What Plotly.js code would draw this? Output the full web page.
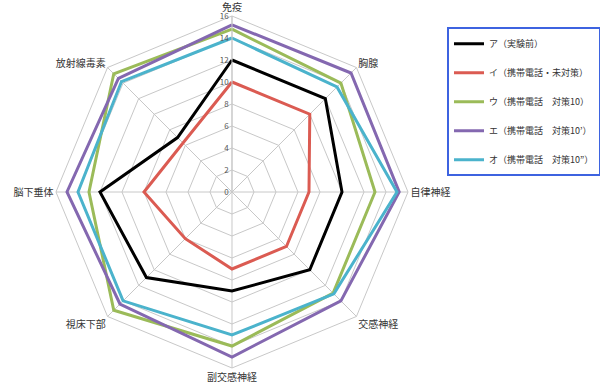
<!DOCTYPE html>
<html>
<head>
<meta charset="utf-8">
<script src="https://cdn.plot.ly/plotly-3.0.1.min.js"></script>
<style>html,body{margin:0;padding:0;background:#fff;}#chart{width:600px;height:388px;}</style>
</head>
<body>
<div id="chart"></div>
<script>
const categories = ["免疫", "胸腺", "自律神経", "交感神経", "副交感神経", "視床下部", "脳下垂体", "放射線毒素"];
const seriesNames = ["ア（実験前）", "イ（携帯電話・未対策）", "ウ（携帯電話　対策10）", "エ（携帯電話　対策10’）", "オ（携帯電話　対策10”）"];
const valuesA = [12, 12, 10, 10, 9, 11, 12, 7];
const valuesI = [10, 10, 7, 7, 7, 6, 8, 6.3];
const valuesU = [14.8, 14, 13, 13, 14, 15.2, 13, 15.2];
const valuesE = [15.2, 15.3, 15.2, 14, 15, 14.4, 15, 14.6];
const valuesO = [14, 13.5, 15, 13.1, 13, 14, 14, 14.2];
const radialTicks = [0, 2, 4, 6, 8, 10, 12, 14, 16];

const colors = ["#000000", "#DB5B52", "#9BBB59", "#8468B0", "#4BB3CC"];
const allValues = [valuesA, valuesI, valuesU, valuesE, valuesO];

const traces = allValues.map((vals, i) => ({
  type: "scatterpolar",
  mode: "lines",
  r: vals.concat([vals[0]]),
  theta: categories.concat([categories[0]]),
  name: seriesNames[i],
  legendgroup: "g" + i,
  line: {color: colors[i], width: 3},
  hoverinfo: "skip"
}));

const layout = {
  width: 600,
  height: 388,
  margin: {l: 0, r: 0, t: 0, b: 0, autoexpand: false},
  paper_bgcolor: "#ffffff",
  font: {family: "'Noto Sans CJK JP', 'Noto Sans', sans-serif", size: 10, color: "#404040"},
  showlegend: true,
  legend: {
    x: 0.745, y: 0.93, xanchor: "left", yanchor: "top",
    bordercolor: "#3D63E0", borderwidth: 2,
    bgcolor: "#ffffff",
    font: {size: 9, color: "#333333"},
    tracegroupgap: 10,
    itemwidth: 30
  },
  polar: {
    domain: {x: [0.0933, 0.68], y: [0.0515, 0.9588]},
    bgcolor: "#ffffff",
    gridshape: "linear",
    angularaxis: {
      rotation: 90,
      direction: "clockwise",
      showline: true,
      linecolor: "#c8c8c8",
      linewidth: 1,
      gridcolor: "#c8c8c8",
      ticks: "",
      tickfont: {size: 10, color: "#333333"}
    },
    radialaxis: {
      range: [0, 16],
      tickvals: radialTicks,
      angle: 90,
      tickangle: 90,
      side: "counterclockwise",
      showline: true,
      linecolor: "#c8c8c8",
      gridcolor: "#c8c8c8",
      ticks: "",
      tickfont: {size: 8, color: "#555555"}
    }
  }
};

Plotly.newPlot("chart", traces, layout, {displayModeBar: false, staticPlot: true});
</script>
</body>
</html>
